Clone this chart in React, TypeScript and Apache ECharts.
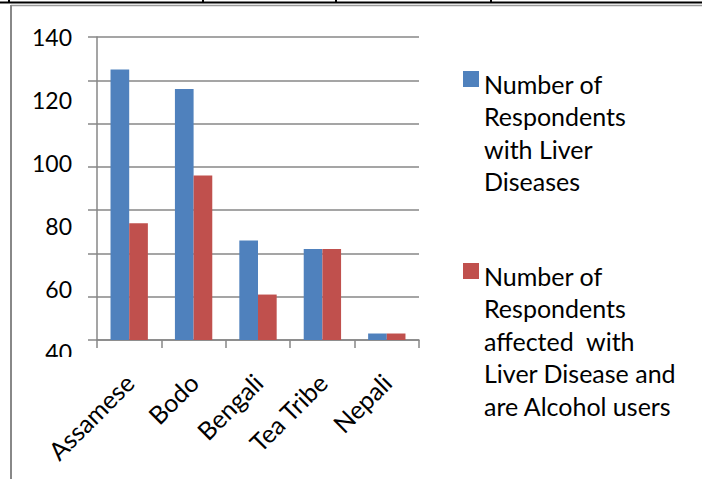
import React, { useEffect, useRef } from "react";
import * as echarts from "echarts";

// Respondent counts by community
const categories = ["Assamese", "Bodo", "Bengali", "Tea Tribe", "Nepali"];
const liverDiseaseCounts = [125, 116, 46, 42, 3];
const alcoholUserCounts = [54, 76, 21, 42, 3];

// Printed value scale beside the plot
const scaleTicks = [40, 60, 80, 100, 120, 140];

const seriesNames = [
  "Number of\nRespondents\nwith Liver\nDiseases",
  "Number of\nRespondents\naffected  with\nLiver Disease and\nare Alcohol users",
];
const seriesColors = ["#4F81BD", "#C0504D"];

const FONT = "Lato, 'Noto Sans', sans-serif";
const AXIS_GRAY = "#878787";
const LINE_H = 32.5;

// Legend swatch: a 16px square near the top of a tall icon box, so it sits
// beside the first line of a multi-line label.
const swatchIcon = (h: number) =>
  `path://M0,0h0.01v0.01h-0.01z M0,3.75h16v16h-16z M0,${h - 0.01}h0.01v0.01h-0.01z`;

export default function App() {
  const ref = useRef<HTMLDivElement>(null);

  useEffect(() => {
    if (!ref.current) return;
    const chart = echarts.init(ref.current, null, { renderer: "svg" });

    const legendFor = (idx: number, top: number) => {
      const lines = seriesNames[idx].split("\n").length;
      const h = lines * LINE_H;
      return {
        data: [seriesNames[idx]],
        left: 463,
        top,
        padding: 0,
        itemWidth: 16,
        itemHeight: h,
        itemGap: 0,
        icon: swatchIcon(h),
        selectedMode: false,
        textStyle: {
          fontFamily: FONT,
          fontSize: 25,
          lineHeight: LINE_H,
          color: "#000",
        },
      };
    };

    chart.setOption({
      animation: false,
      backgroundColor: "#fff",
      color: seriesColors,
      legend: [legendFor(0, 67.25), legendFor(1, 259.25)],
      grid: [
        { left: 97, right: 283, top: 37, bottom: 139 },
        { left: 80, right: 600, top: 37, bottom: 127 },
      ],
      xAxis: [
        {
          type: "category",
          gridIndex: 0,
          data: categories,
          axisLine: { lineStyle: { color: AXIS_GRAY, width: 1.5 } },
          axisTick: { show: true, length: 8, lineStyle: { color: AXIS_GRAY, width: 1.5 } },
          axisLabel: {
            interval: 0,
            rotate: 45,
            margin: 38,
            fontFamily: FONT,
            fontSize: 25,
            color: "#000",
          },
        },
        { type: "value", gridIndex: 1, show: false, min: 0, max: 1 },
      ],
      yAxis: [
        {
          type: "value",
          gridIndex: 0,
          min: 0,
          max: 140,
          interval: 20,
          axisLabel: { show: false },
          axisLine: { show: true, lineStyle: { color: AXIS_GRAY, width: 1.5 } },
          axisTick: { show: true, length: 9, lineStyle: { color: AXIS_GRAY, width: 1.5 } },
          splitLine: { lineStyle: { color: AXIS_GRAY, width: 1.5 } },
        },
        {
          type: "value",
          gridIndex: 1,
          min: scaleTicks[0],
          max: scaleTicks[scaleTicks.length - 1],
          interval: scaleTicks[1] - scaleTicks[0],
          axisLine: { show: false },
          axisTick: { show: false },
          splitLine: { show: false },
          axisLabel: {
            margin: 8,
            fontFamily: FONT,
            fontSize: 23,
            color: "#000",
          },
        },
      ],
      series: [
        {
          name: seriesNames[0],
          type: "bar",
          xAxisIndex: 0,
          yAxisIndex: 0,
          data: liverDiseaseCounts,
          barGap: "0%",
          barCategoryGap: "42%",
          itemStyle: { color: seriesColors[0] },
        },
        {
          name: seriesNames[1],
          type: "bar",
          xAxisIndex: 0,
          yAxisIndex: 0,
          data: alcoholUserCounts,
          barGap: "0%",
          barCategoryGap: "42%",
          itemStyle: { color: seriesColors[1] },
        },
      ],
      graphic: [
        // table rule along the top edge
        { type: "line", z: 100, shape: { x1: 0, y1: 2.5, x2: 702, y2: 2.5 }, style: { stroke: "#000", lineWidth: 2 } },
        { type: "line", z: 100, shape: { x1: 9, y1: 0, x2: 9, y2: 3 }, style: { stroke: "#000", lineWidth: 2 } },
        { type: "line", z: 100, shape: { x1: 203, y1: 0, x2: 203, y2: 3 }, style: { stroke: "#000", lineWidth: 2 } },
        { type: "line", z: 100, shape: { x1: 336, y1: 0, x2: 336, y2: 3 }, style: { stroke: "#000", lineWidth: 2 } },
        { type: "line", z: 100, shape: { x1: 491, y1: 0, x2: 491, y2: 3 }, style: { stroke: "#000", lineWidth: 2 } },
        // chart frame
        { type: "line", z: 100, shape: { x1: 11, y1: 5.5, x2: 702, y2: 5.5 }, style: { stroke: "#9a9a9a", lineWidth: 1.5 } },
        { type: "line", z: 100, shape: { x1: 11, y1: 5, x2: 11, y2: 479 }, style: { stroke: "#888", lineWidth: 2 } },
        // the lowest scale label is cut off by the plot's lower edge
        { type: "rect", z: 100, shape: { x: 25, y: 357, width: 60, height: 12 }, style: { fill: "#fff" } },
      ],
    });

    return () => chart.dispose();
  }, []);

  return (
    <div
      ref={ref}
      style={{ position: "fixed", left: 0, top: 0, width: 702, height: 479 }}
    />
  );
}
